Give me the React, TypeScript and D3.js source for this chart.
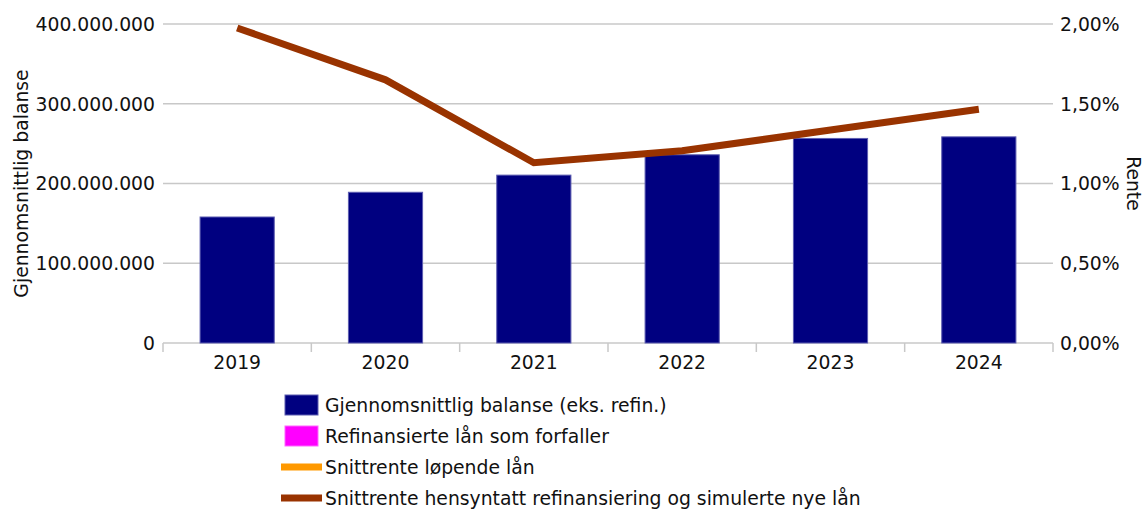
import React, { useEffect, useRef } from 'react';
import * as d3 from 'd3';

// Data
const years = ['2019', '2020', '2021', '2022', '2023', '2024'];
const balanse = [158000000, 189000000, 210500000, 236000000, 256500000, 258500000];
const refinansiert = [0, 0, 0, 0, 0, 0];
const snittrenteHensyntatt = [1.975, 1.65, 1.13, 1.205, 1.335, 1.465];
const leftTicks = [0, 100000000, 200000000, 300000000, 400000000];
const rightTicks = [0, 0.5, 1, 1.5, 2];

const legendItems = [
    { label: 'Gjennomsnittlig balanse (eks. refin.)', color: '#000080', type: 'box' },
    { label: 'Refinansierte lån som forfaller', color: '#ff00ff', type: 'box' },
    { label: 'Snittrente løpende lån', color: '#ff9900', type: 'line' },
    { label: 'Snittrente hensyntatt refinansiering og simulerte nye lån', color: '#993300', type: 'line' },
];

export default function App() {
    const ref = useRef<SVGSVGElement | null>(null);

    useEffect(() => {
        const svg = d3.select(ref.current);
        svg.selectAll('*').remove();

        const font = 'DejaVu Sans, sans-serif';
        const fs = '18.8px';
        const left = 163, right = 1053, top = 24, bottom = 343;

        const x = d3.scaleBand().domain(years).range([left, right]).paddingInner(0).paddingOuter(0);
        const yL = d3.scaleLinear().domain([0, 400000000]).range([bottom, top]);
        const yR = d3.scaleLinear().domain([0, 2]).range([bottom, top]);

        const fmtL = (v: number) => d3.format(',')(v).replace(/,/g, '.');
        const fmtR = (v: number) => v.toFixed(2).replace('.', ',') + '%';

        // Gridlines
        svg.append('g')
            .selectAll('line')
            .data(leftTicks)
            .enter().append('line')
            .attr('x1', left)
            .attr('x2', right)
            .attr('y1', d => yL(d))
            .attr('y2', d => yL(d))
            .attr('stroke', '#c8c8c8')
            .attr('stroke-width', 1.5);

        // Category ticks
        const bounds = years.map(d => x(d) as number).concat([right]);
        svg.append('g')
            .selectAll('line')
            .data(bounds)
            .enter().append('line')
            .attr('x1', d => d)
            .attr('x2', d => d)
            .attr('y1', bottom)
            .attr('y2', bottom + 9)
            .attr('stroke', '#c8c8c8')
            .attr('stroke-width', 1.5);

        // Left tick labels
        svg.append('g')
            .selectAll('text')
            .data(leftTicks)
            .enter().append('text')
            .attr('x', left - 8)
            .attr('y', d => yL(d))
            .attr('dy', '0.36em')
            .attr('text-anchor', 'end')
            .style('font-family', font)
            .style('font-size', fs)
            .attr('fill', '#111')
            .text(d => fmtL(d));

        // Right tick labels
        svg.append('g')
            .selectAll('text')
            .data(rightTicks)
            .enter().append('text')
            .attr('x', right + 7)
            .attr('y', d => yR(d))
            .attr('dy', '0.36em')
            .attr('text-anchor', 'start')
            .style('font-family', font)
            .style('font-size', fs)
            .attr('fill', '#111')
            .text(d => fmtR(d));

        // Category labels
        svg.append('g')
            .selectAll('text')
            .data(years)
            .enter().append('text')
            .attr('x', d => (x(d) as number) + x.bandwidth() / 2)
            .attr('y', bottom + 26)
            .attr('text-anchor', 'middle')
            .style('font-family', font)
            .style('font-size', fs)
            .attr('fill', '#111')
            .text(d => d);

        // Axis titles
        svg.append('text')
            .attr('transform', `translate(28,${(top + bottom) / 2}) rotate(-90)`)
            .attr('text-anchor', 'middle')
            .style('font-family', font)
            .style('font-size', fs)
            .attr('fill', '#111')
            .text('Gjennomsnittlig balanse');

        svg.append('text')
            .attr('transform', `translate(1127,${(top + bottom) / 2}) rotate(90)`)
            .attr('text-anchor', 'middle')
            .style('font-family', font)
            .style('font-size', fs)
            .attr('fill', '#111')
            .text('Rente');

        // Bars
        const barW = x.bandwidth() / 2;
        svg.append('g')
            .selectAll('rect')
            .data(years)
            .enter().append('rect')
            .attr('x', d => (x(d) as number) + x.bandwidth() / 4)
            .attr('width', barW)
            .attr('y', (d, i) => yL(balanse[i]))
            .attr('height', (d, i) => bottom - yL(balanse[i]))
            .attr('fill', '#000080')
            .attr('stroke', '#5c5cb0')
            .attr('stroke-width', 1);

        // Stacked refinansiert (zero)
        svg.append('g')
            .selectAll('rect')
            .data(years)
            .enter().append('rect')
            .attr('x', d => (x(d) as number) + x.bandwidth() / 4)
            .attr('width', barW)
            .attr('y', (d, i) => yL(balanse[i] + refinansiert[i]))
            .attr('height', (d, i) => yL(balanse[i]) - yL(balanse[i] + refinansiert[i]))
            .attr('fill', '#ff00ff');

        // Line
        const line = d3.line<number>()
            .x((d, i) => (x(years[i]) as number) + x.bandwidth() / 2)
            .y(d => yR(d));

        svg.append('path')
            .datum(snittrenteHensyntatt)
            .attr('d', line)
            .attr('fill', 'none')
            .attr('stroke', '#993300')
            .attr('stroke-width', 7);

        // Legend
        const lg = svg.append('g');
        legendItems.forEach((item, i) => {
            const cy = 405 + i * 31;
            if (item.type === 'box') {
                lg.append('rect')
                    .attr('x', 285)
                    .attr('y', cy - 10)
                    .attr('width', 33)
                    .attr('height', 20)
                    .attr('fill', item.color)
                    .attr('stroke', item.color === '#000080' ? '#5c5cb0' : '#ff66ff')
                    .attr('stroke-width', 1);
            } else {
                lg.append('line')
                    .attr('x1', 281)
                    .attr('x2', 322)
                    .attr('y1', cy)
                    .attr('y2', cy)
                    .attr('stroke', item.color)
                    .attr('stroke-width', 7);
            }
            lg.append('text')
                .attr('x', 325)
                .attr('y', cy)
                .attr('dy', '0.36em')
                .style('font-family', font)
                .style('font-size', fs)
                .attr('fill', '#111')
                .text(item.label);
        });
    }, []);

    return (
        <svg
            ref={ref}
            width={1145}
            height={511}
            style={{ position: 'absolute', left: 0, top: 0, background: '#fff' }}
        />
    );
}
